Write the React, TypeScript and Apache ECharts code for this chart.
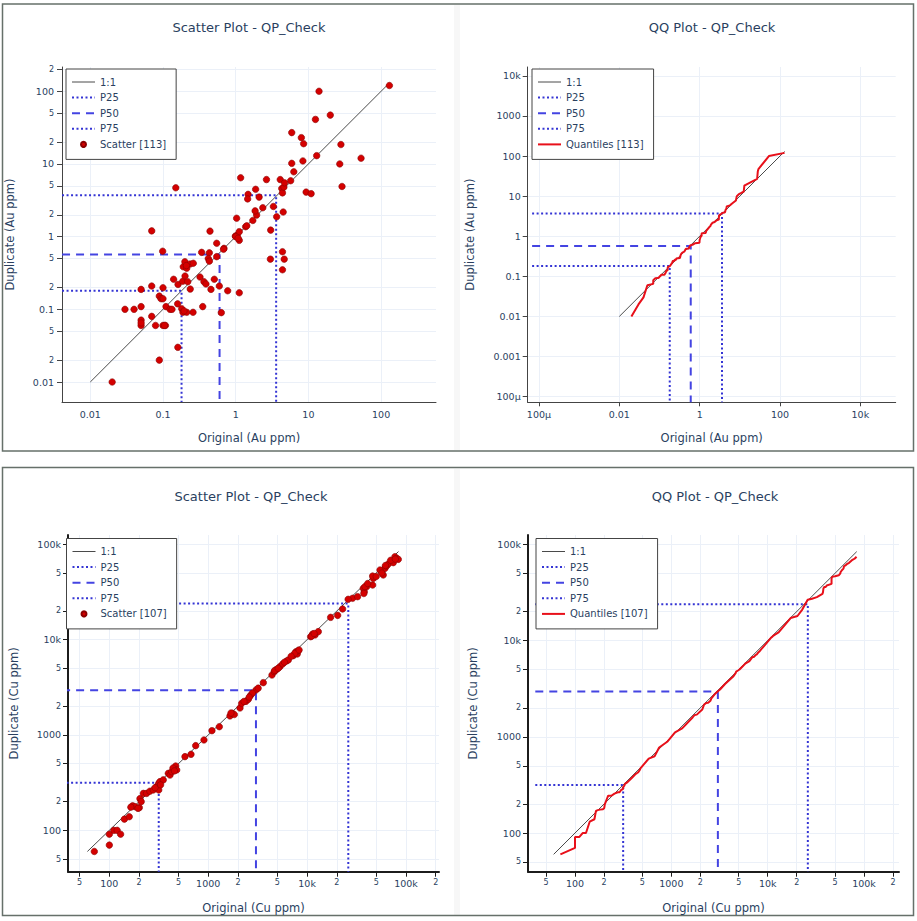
import React, { useEffect, useRef } from 'react';
import * as echarts from 'echarts';

// Au duplicates (ppm), pairs
const auOrig = [
  0.02, 0.089, 0.16, 0.03, 0.04, 0.05, 0.05, 0.05, 0.05, 0.07,
  0.07, 0.079, 0.07, 0.099, 0.1, 0.089, 0.094, 0.1, 0.1, 0.108,
  0.11, 0.125, 0.133, 0.14, 0.161, 0.159, 0.181, 0.188, 0.212, 0.259,
  0.187, 0.201, 0.219, 0.19, 0.212, 0.2, 0.236, 0.261, 0.237, 0.323,
  0.366, 0.39, 0.457, 0.352, 0.508, 0.595, 0.634, 0.776, 1.12, 0.34,
  0.434, 0.42, 0.434, 0.548, 0.548, 0.69, 0.443, 0.15, 1.03, 0.99,
  1.05, 1.12, 1.12, 1.17, 1.37, 1.42, 1.72, 1.94, 1.85, 2.36,
  3.03, 3.0, 3.3, 3.66, 4.5, 4.4, 4.65, 4.4, 1.48, 1.46,
  1.88, 2.1, 2.65, 4.1, 4.3, 4.4, 4.6, 4.7, 5.7, 5.9,
  6.3, 5.9, 8.0, 8.6, 8.4, 9.3, 10.9, 12.5, 13, 14,
  20, 27, 28, 29, 53, 130, 0.05, 0.105, 0.195, 1.0,
  1.08, 0.68, 0.21,
];
const auDup = [
  0.01, 0.02, 0.03, 0.1, 0.1, 0.109, 0.071, 0.06, 0.188, 0.209,
  0.08, 0.06, 1.2, 0.63, 0.198, 0.152, 0.14, 0.14, 0.06, 0.06,
  0.109, 0.1, 0.1, 0.259, 0.22, 0.119, 0.102, 0.091, 0.091, 0.091,
  0.243, 0.287, 0.24, 0.385, 0.367, 0.452, 0.42, 0.43, 0.19, 0.278,
  0.24, 0.223, 0.188, 0.109, 0.259, 0.209, 0.09, 0.18, 0.169, 0.608,
  0.6, 0.5, 0.46, 0.81, 0.53, 0.69, 1.19, 4.7, 1.79, 1.02,
  1.05, 1.17, 0.89, 6.46, 1.37, 1.41, 1.67, 1.98, 2.26, 2.5,
  1.23, 0.49, 2.6, 1.88, 2.18, 0.62, 0.49, 0.35, 3.82, 3.3,
  4.48, 3.5, 6.1, 6.1, 4.6, 4.0, 4.8, 5.5, 5.88, 10.2,
  7.8, 27, 23, 19, 11, 4.1, 3.9, 41, 13, 100,
  47, 10, 18.5, 4.9, 12, 120, 0.065, 0.06, 0.095, 1.0,
  0.95, 0.67, 0.4,
];

// Cu duplicates (ppm)
const cuOrig = [
  70.5, 100, 100, 111, 120, 130, 142, 159, 172, 182,
  201, 204, 195, 221, 238, 257, 278, 301, 316, 316,
  325, 351, 395, 411, 427, 469, 480, 582, 670, 747,
  906, 1091, 1295, 1660, 1754, 1837, 2096, 2180, 2410, 2543,
  2686, 3040, 3607, 4415, 4660, 4920, 5318, 5660, 6210, 6456,
  7245, 7713, 7950, 8150, 10860, 11380, 12020, 12980, 17300, 20370,
  22860, 28840, 32400, 37000, 37860, 40000, 37500, 46000, 46700, 46000,
  56800, 58900, 61200, 63600, 66200, 74400, 77300, 80400, 83600, 54600,
  165, 210, 290, 330, 440, 455, 1700, 2300, 2800, 4700,
  5100, 5900, 7500, 11100, 11800, 38500, 41000, 50000, 57000, 62000,
  70000, 78000, 26000, 3200, 6900, 8300, 2600,
];
const cuDup = [
  60, 91, 70, 100, 100, 91, 131, 139, 181, 177,
  173, 215, 170, 244, 244, 257, 265, 287, 311, 265,
  324, 338, 396, 380, 412, 473, 430, 593, 627, 773,
  887, 1110, 1222, 1585, 1688, 1640, 1920, 2148, 2254, 2366,
  2606, 2966, 3540, 4256, 4613, 4885, 5212, 5560, 5975, 6120,
  6797, 7480, 7075, 7672, 10740, 11470, 11200, 12140, 17150, 17990,
  20990, 27170, 28250, 34550, 31850, 35960, 30500, 37400, 43950, 46500,
  51300, 47700, 55900, 59300, 62200, 64300, 74200, 71300, 69600, 53800,
  175, 200, 280, 300, 450, 420, 1700, 2250, 2750, 4750,
  5000, 5800, 7200, 10900, 11600, 36000, 38800, 46000, 50000, 60000,
  68000, 70000, 26500, 3100, 6700, 7800, 2500,
];

// percentiles P25 / P50 / P75 (original, duplicate)
const auPctOrig = [0.18, 0.6, 3.6];
const auPctDup = [0.18, 0.57, 3.7];
const cuPctOrig = [316, 3040, 26100];
const cuPctDup = [316, 2950, 23900];

// 1:1 reference line ends
const auOneToOne = [0.01, 130];
const cuOneToOne = [60, 84000];

// tick values
const auScatterXTicks = [0.01, 0.1, 1, 10, 100];
const auScatterYTicks = [0.01, 0.02, 0.05, 0.1, 0.2, 0.5, 1, 2, 5, 10, 20, 50, 100, 200];
const auQQXTicks = [1e-4, 1e-2, 1, 100, 1e4];
const auQQYTicks = [1e-4, 1e-3, 1e-2, 0.1, 1, 10, 100, 1000, 1e4];
const cuTicks = [50, 100, 200, 500, 1000, 2000, 5000, 1e4, 2e4, 5e4, 1e5, 2e5];

const FONT = 'DejaVu Sans';
const TEXT = '#2a3f5f';
const GRID = '#ebf0f8';

const lg = (v: number) => Math.log10(v);

const tickLabel = (lv: number) => {
  const e = Math.floor(lv + 1e-9);
  const m = Math.round(Math.pow(10, lv - e));
  if (m !== 1) return '{mi|' + m + '}';
  let s: string;
  if (e === -4) s = '100µ';
  else if (e >= 4) s = Math.pow(10, e - 3) + 'k';
  else if (e < 0) s = Math.pow(10, e).toFixed(-e);
  else s = String(Math.pow(10, e));
  return '{ma|' + s + '}';
};

const rich = {
  ma: { fontSize: 9.5, fontFamily: FONT, color: TEXT },
  mi: { fontSize: 8, fontFamily: FONT, color: TEXT },
};

const makeAxis = (
  gi: number, range: number[], labels: number[], tickLen: number,
  name: string, nameGap: number, bold: boolean, margin: number,
) => {
  const lineColor = bold ? '#1c1c1c' : '#444';
  return {
    type: 'value', gridIndex: gi, min: range[0], max: range[1],
    name, nameLocation: 'middle', nameGap,
    nameTextStyle: { fontSize: 11.5, color: TEXT, fontFamily: FONT },
    axisLine: { show: true, onZero: false, lineStyle: { color: lineColor, width: bold ? 2 : 1 } },
    axisTick: { show: true, length: tickLen, customValues: labels.map(lg), lineStyle: { color: lineColor, width: 1 } },
    axisLabel: { show: true, customValues: labels.map(lg), formatter: tickLabel, margin, rich },
    splitLine: { show: true, lineStyle: { color: GRID, width: 1 } },
  };
};

const ranges = [
  { x: [-2.389, 2.755], y: [-2.275, 2.334] },
  { x: [-4.28, 4.88], y: [-4.14, 4.22] },
  { x: [1.582, 5.334], y: [1.566, 5.098] },
  { x: [1.512, 5.363], y: [1.598, 5.097] },
];
const pLineStart = [0.00409, 0.0000676, 33.3, 38.7];

const pStyles = [
  { name: 'P25', type: [2, 2.5], color: '#3434d4' },
  { name: 'P50', type: [8, 6], color: '#4444e2' },
  { name: 'P75', type: [2, 2.5], color: '#3434d4' },
];

const qq = (a: number[], b: number[]) => {
  const sa = [...a].sort((p, q) => p - q);
  const sb = [...b].sort((p, q) => p - q);
  return sa.map((v, i) => [lg(v), lg(sb[i])]);
};

const panelSeries = (
  gi: number, line: number[], pOrig: number[], pDup: number[], main: any,
) => {
  const out: any[] = [
    {
      name: '1:1', type: 'line', xAxisIndex: gi, yAxisIndex: gi, symbol: 'none', silent: true,
      data: line.map((v) => [lg(v), lg(v)]),
      lineStyle: { color: '#4a4a4a', width: 1 }, itemStyle: { color: '#4a4a4a' }, z: 2,
    },
  ];
  pStyles.forEach((p, k) => {
    out.push({
      name: p.name, type: 'line', xAxisIndex: gi, yAxisIndex: gi, symbol: 'none', silent: true, clip: false,
      data: [
        [lg(pLineStart[gi]), lg(pDup[k])],
        [lg(pOrig[k]), lg(pDup[k])],
        [lg(pOrig[k]), ranges[gi].y[0]],
      ],
      lineStyle: { color: p.color, width: 2, type: p.type }, itemStyle: { color: p.color }, z: 3,
    });
  });
  out.push(main);
  return out;
};

const scatter = (gi: number, name: string, o: number[], d: number[]) => ({
  name, type: 'scatter', xAxisIndex: gi, yAxisIndex: gi, symbol: 'circle', symbolSize: 6.5,
  data: o.map((v, i) => [lg(v), lg(d[i])]),
  itemStyle: { color: '#d40000', borderColor: '#8a0000', borderWidth: 0.6, opacity: 1 }, z: 4,
});

const quantiles = (gi: number, name: string, o: number[], d: number[]) => ({
  name, type: 'line', xAxisIndex: gi, yAxisIndex: gi, symbol: 'none', silent: true,
  data: qq(o, d),
  lineStyle: { color: '#e8101a', width: 2 }, itemStyle: { color: '#e8101a' }, z: 4,
});

const hideDot = { opacity: 0 };

const legendBox = (left: number, top: number, last: string, lastIsLine: boolean) => ({
  left, top, orient: 'vertical', selectedMode: false,
  data: [
    { name: '1:1', itemStyle: hideDot },
    { name: 'P25', itemStyle: hideDot },
    { name: 'P50', itemStyle: hideDot },
    { name: 'P75', itemStyle: hideDot },
    lastIsLine ? { name: last, itemStyle: hideDot } : { name: last, icon: 'circle' },
  ],
  padding: [7, 10, 9, 5], itemWidth: 23, itemHeight: 5, itemGap: 3.6,
  borderColor: '#444', borderWidth: 1, backgroundColor: '#fff',
  lineStyle: { width: 'inherit' },
  textStyle: { fontSize: 10, color: TEXT, fontFamily: FONT, lineHeight: 12 },
});

const titleAt = (text: string, left: number, top: number) => ({
  text, left, top, textAlign: 'center', padding: 0,
  textStyle: { fontSize: 13, fontWeight: 'normal', color: TEXT, fontFamily: FONT },
});

const App = () => {
  const chartRef = useRef<HTMLDivElement>(null);

  useEffect(() => {
    const chart = echarts.init(chartRef.current, null, { renderer: 'svg' });

    const option: any = {
      animation: false,
      backgroundColor: '#fff',
      textStyle: { fontFamily: FONT },
      title: [
        titleAt('Scatter Plot - QP_Check', 249, 21),
        titleAt('QQ Plot - QP_Check', 712, 21),
        titleAt('Scatter Plot - QP_Check', 251, 490),
        titleAt('QQ Plot - QP_Check', 715, 490),
      ],
      legend: [
        legendBox(66, 69, 'Scatter [113]', false),
        legendBox(532, 69, 'Quantiles [113]', true),
        legendBox(66.5, 538.5, 'Scatter [107]', false),
        legendBox(536, 538.5, 'Quantiles [107]', true),
      ],
      grid: [
        { left: 62, top: 67, width: 374, height: 335, outerBoundsMode: 'none' },
        { left: 527.7, top: 67, width: 368, height: 335.3, outerBoundsMode: 'none' },
        { left: 68, top: 535, width: 371, height: 336.7, outerBoundsMode: 'none' },
        { left: 528, top: 535, width: 371, height: 336.7, outerBoundsMode: 'none' },
      ],
      xAxis: [
        makeAxis(0, ranges[0].x, auScatterXTicks, 0, 'Original (Au ppm)', 30, false, 7),
        makeAxis(1, ranges[1].x, auQQXTicks, 4, 'Original (Au ppm)', 30, false, 7),
        makeAxis(2, ranges[2].x, cuTicks, 5, 'Original (Cu ppm)', 30, true, 7),
        makeAxis(3, ranges[3].x, cuTicks, 5, 'Original (Cu ppm)', 30, true, 7),
      ],
      yAxis: [
        makeAxis(0, ranges[0].y, auScatterYTicks, 5, 'Duplicate (Au ppm)', 46, false, 8),
        makeAxis(1, ranges[1].y, auQQYTicks, 5, 'Duplicate (Au ppm)', 52, false, 7),
        makeAxis(2, ranges[2].y, cuTicks, 5, 'Duplicate (Cu ppm)', 48, true, 7),
        makeAxis(3, ranges[3].y, cuTicks, 5, 'Duplicate (Cu ppm)', 49, true, 7),
      ],
      series: [
        ...panelSeries(0, auOneToOne, auPctOrig, auPctDup, scatter(0, 'Scatter [113]', auOrig, auDup)),
        ...panelSeries(1, auOneToOne, auPctOrig, auPctDup, quantiles(1, 'Quantiles [113]', auOrig, auDup)),
        ...panelSeries(2, cuOneToOne, cuPctOrig, cuPctDup, scatter(2, 'Scatter [107]', cuOrig, cuDup)),
        ...panelSeries(3, cuOneToOne, cuPctOrig, cuPctDup, quantiles(3, 'Quantiles [107]', cuOrig, cuDup)),
      ],
      graphic: [
        { type: 'rect', silent: true, z: -10, shape: { x: 454, y: 5, width: 6, height: 445 }, style: { fill: '#f7f7f7' } },
        { type: 'rect', silent: true, z: -10, shape: { x: 454, y: 469, width: 6, height: 446 }, style: { fill: '#f7f7f7' } },
        { type: 'rect', silent: true, shape: { x: 2.5, y: 4, width: 911, height: 447 }, style: { fill: 'none', stroke: '#66706a', lineWidth: 1.5 } },
        { type: 'rect', silent: true, shape: { x: 2.5, y: 467.5, width: 911, height: 448 }, style: { fill: 'none', stroke: '#66706a', lineWidth: 1.5 } },
      ],
    };

    chart.setOption(option);

    return () => {
      chart.dispose();
    };
  }, []);

  return (
    <div
      ref={chartRef}
      style={{ position: 'absolute', left: 0, top: 0, width: '917px', height: '921px' }}
    />
  );
};

export default App;
